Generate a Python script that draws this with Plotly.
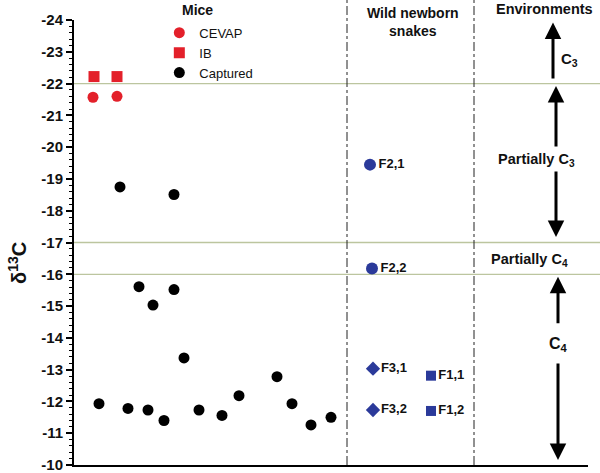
import plotly.graph_objects as go

# ---- data (x: horizontal position along the unlabeled axis, y: d13C) ----
cevap_x = [19, 43]
cevap_y = [-21.57, -21.60]
ib_x = [20, 43]
ib_y = [-22.22, -22.22]
capt_x = [25, 46, 54, 65, 74, 79, 90, 100, 100, 110, 125, 148, 165, 203, 218, 237, 257]
capt_y = [-11.93, -18.75, -11.78, -15.61, -11.73, -15.03, -11.40, -15.52, -18.51,
          -13.37, -11.73, -11.56, -12.18, -12.78, -11.93, -11.26, -11.50]
snake_ell_x = [296, 298]
snake_ell_y = [-19.45, -16.18]
snake_ell_lbl = ["F2,1", "F2,2"]
snake_dia_x = [299, 299]
snake_dia_y = [-13.03, -11.73]
snake_dia_lbl = ["F3,1", "F3,2"]
snake_sq_x = [357, 357]
snake_sq_y = [-12.81, -11.70]
snake_sq_lbl = ["F1,1", "F1,2"]
boundaries = [-22, -17, -16]
dividers_x = [273, 400]
y_ticks = list(range(-24, -9))

RED = "#e3202a"
BLUE = "#2b3a9a"
FONT = "Liberation Sans, Arial, sans-serif"

fig = go.Figure()

fig.add_trace(go.Scatter(x=cevap_x, y=cevap_y, mode="markers", name="CEVAP",
                         marker=dict(symbol="circle", size=11, color=RED)))
fig.add_trace(go.Scatter(x=ib_x, y=ib_y, mode="markers", name="IB",
                         marker=dict(symbol="square", size=11, color=RED)))
fig.add_trace(go.Scatter(x=capt_x, y=capt_y, mode="markers", name="Captured",
                         marker=dict(symbol="circle", size=11, color="black")))

lblfont = dict(family=FONT, size=13, color="#111")
fig.add_trace(go.Scatter(x=snake_ell_x, y=snake_ell_y, mode="markers+text",
                         text=["<b>%s</b>" % t for t in snake_ell_lbl],
                         textposition="middle right", textfont=lblfont,
                         marker=dict(symbol="circle", size=12, color=BLUE),
                         showlegend=False))
fig.add_trace(go.Scatter(x=snake_dia_x, y=snake_dia_y, mode="markers+text",
                         text=["<b>%s</b>" % t for t in snake_dia_lbl],
                         textposition="middle right", textfont=lblfont,
                         marker=dict(symbol="diamond", size=11, color=BLUE),
                         showlegend=False))
fig.add_trace(go.Scatter(x=snake_sq_x, y=snake_sq_y, mode="markers+text",
                         text=["<b>%s</b>" % t for t in snake_sq_lbl],
                         textposition="middle right", textfont=lblfont,
                         marker=dict(symbol="square", size=10, color=BLUE),
                         showlegend=False))

shapes = []
for b in boundaries:
    shapes.append(dict(type="line", xref="paper", yref="y", x0=0, x1=1.03,
                       y0=b, y1=b, line=dict(color="#bcc59f", width=1.3), layer="below"))
for d in dividers_x:
    shapes.append(dict(type="line", xref="x", yref="paper", x0=d, x1=d,
                       y0=0, y1=1.05, line=dict(color="#222", width=1, dash="dashdot"),
                       layer="below"))

ann = []
def txt(x, y, s, size=13, xanchor="center"):
    ann.append(dict(x=x, y=y, xref="x", yref="y", text=s, showarrow=False,
                    font=dict(family=FONT, size=size, color="#111"), xanchor=xanchor))

def arrow(x, y_tail, y_head):
    ann.append(dict(x=x, y=y_head, ax=x, ay=y_tail, xref="x", yref="y",
                    axref="x", ayref="y", text="", showarrow=True,
                    arrowhead=2, arrowsize=1.1, arrowwidth=3, arrowcolor="black"))

ann.append(dict(x=0.241, y=1.022, xref="paper", yref="paper", xanchor="center",
                yanchor="middle", text="<b>Mice</b>", showarrow=False,
                font=dict(family=FONT, size=14, color="#111")))
ann.append(dict(x=339, y=1.038, xref="x", yref="paper", yanchor="top",
                xanchor="center", text="<b>Wild newborn<br>snakes</b>", showarrow=False,
                font=dict(family=FONT, size=14, color="#111")))
ann.append(dict(x=470, y=1.047, xref="x", yref="paper", yanchor="top",
                xanchor="center", text="<b>Environments</b>", showarrow=False,
                font=dict(family=FONT, size=14.5, color="#111")))
txt(495, -22.75, "<b>C<sub>3</sub></b>", 15)
txt(462, -19.6, "<b>Partially C<sub>3</sub></b>", 14.5)
txt(455, -16.44, "<b>Partially C<sub>4</sub></b>", 14.5)
txt(484, -13.8, "<b>C<sub>4</sub></b>", 16)

arrow(479, -22.11, -23.92)
arrow(482, -19.97, -21.92)
arrow(482, -19.28, -17.17)
arrow(484, -14.41, -15.92)
arrow(484, -13.24, -10.16)

ann.append(dict(x=-0.109, y=0.454, xref="paper", yref="paper", textangle=-90,
                xanchor="center", yanchor="middle",
                text="<b>δ<sup>13</sup>C</b>", showarrow=False,
                font=dict(family=FONT, size=20, color="#111")))

fig.update_layout(
    width=600, height=473,
    margin=dict(l=74, r=12, t=20, b=8, autoexpand=False),
    plot_bgcolor="white", paper_bgcolor="white",
    shapes=shapes, annotations=ann,
    legend=dict(x=0.166, y=1.005, xanchor="left", yanchor="top",
                bgcolor="rgba(0,0,0,0)",
                font=dict(family=FONT, size=13, color="#111"),
                itemwidth=30, tracegroupgap=0),
    showlegend=True,
)
fig.update_xaxes(range=[0, 514], showgrid=False, zeroline=False, showticklabels=False,
                 ticks="", showline=True, linecolor="black", linewidth=2, automargin=False)
fig.update_yaxes(range=[-10, -24], showgrid=False, zeroline=False, automargin=False,
                 tickvals=y_ticks, ticktext=["<b>%d</b>" % v for v in y_ticks],
                 tickfont=dict(family=FONT, size=15, color="#111"),
                 ticklabeloverflow="allow",
                 ticks="outside", ticklen=6, tickwidth=1.5, tickcolor="black",
                 showline=True, linecolor="black", linewidth=2,
                 minor=dict(dtick=0.2, ticks="outside", ticklen=3, tickwidth=1,
                            tickcolor="black"))

fig.write_html("out.html", config={"displayModeBar": False},
               post_script="document.body.style.margin='0';"
                           "document.body.style.overflow='hidden';")
